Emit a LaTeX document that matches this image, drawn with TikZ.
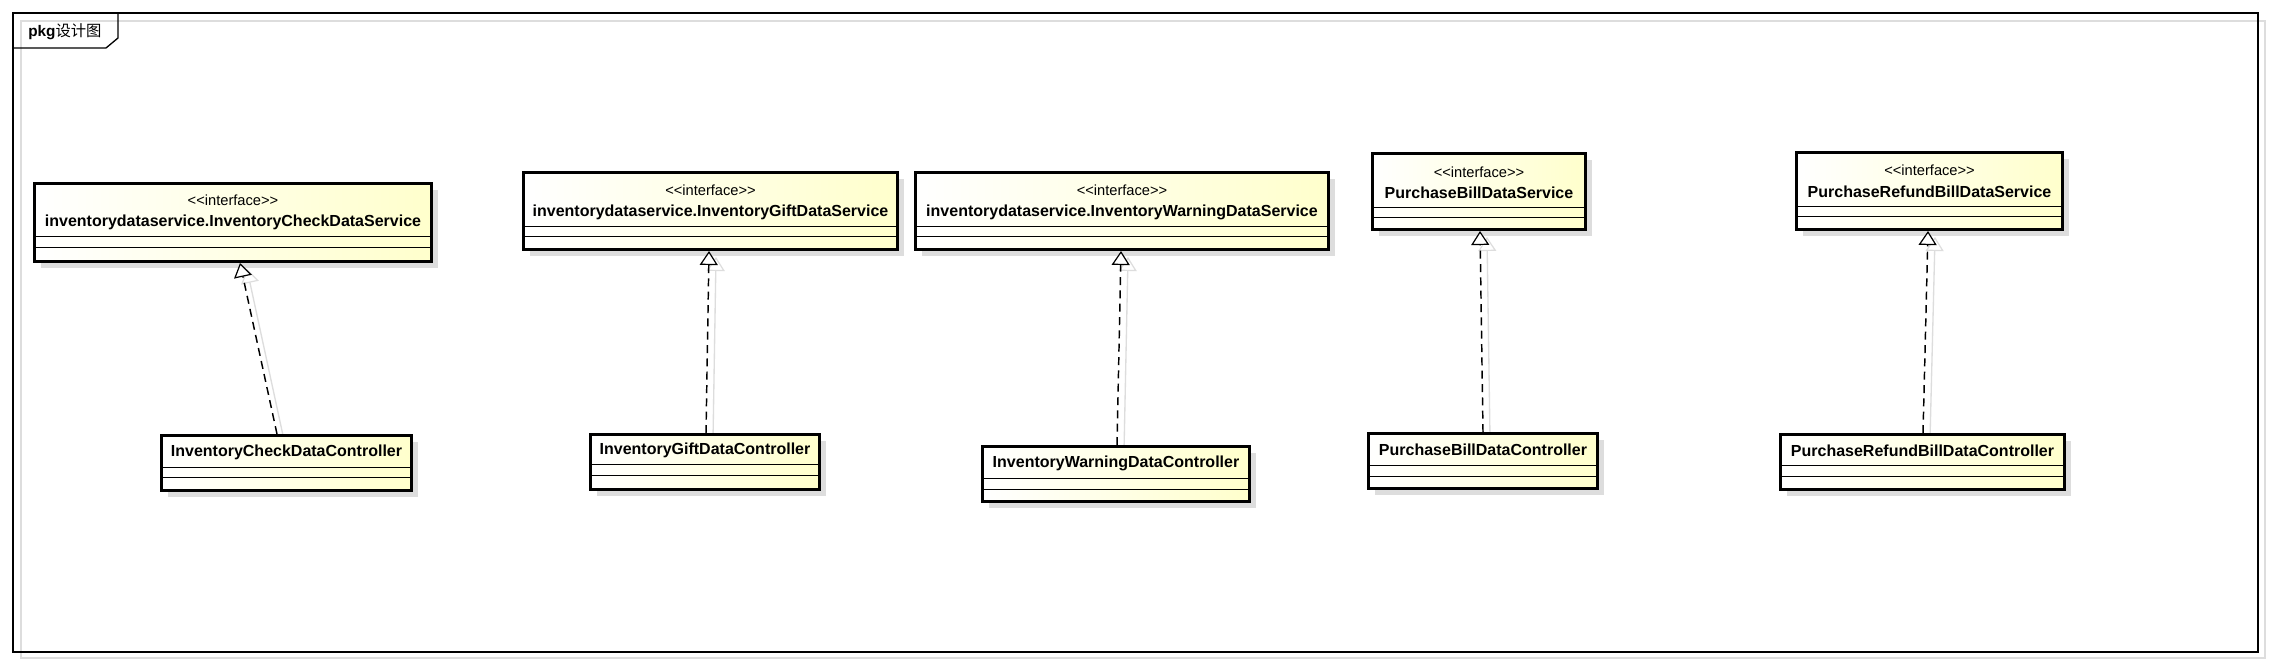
\documentclass[tikz,border=0pt]{standalone}
\usepackage{fontspec}
\setmainfont{Liberation Sans}
\newfontfamily\cjk{Noto Sans CJK SC}
\usetikzlibrary{arrows.meta,calc,fit,shadows,backgrounds}
\definecolor{umlyel}{RGB}{255,255,204}
\definecolor{shadowgray}{RGB}{221,221,221}
\tikzset{
  cls/.style={draw=black, line width=2.25pt, inner sep=0pt, left color=white, right color=umlyel,
    drop shadow={shadow xshift=4.5pt, shadow yshift=-4.5pt, opacity=1, fill=shadowgray}},
  divider/.style={line width=0.75pt},
  stereo/.style={font=\fontsize{11}{13}\selectfont, inner sep=0pt},
  cname/.style={font=\fontsize{12}{14}\selectfont\bfseries, inner sep=0pt},
  realize/.style={line width=1.1pt, dash pattern=on 6pt off 4pt,
    -{Triangle[fill=white, length=10.5pt, width=13.5pt, line width=0.9pt]}},
  arrshadow/.style={draw=shadowgray, line width=1pt,
    -{Triangle[fill=white, length=10.5pt, width=13.5pt, line width=0.9pt]}},
}
\newcommand\stereotxt{<\kern0pt<interface>\kern0pt>}
\begin{document}
\begin{tikzpicture}[x=0.75pt, y=-0.75pt]
\useasboundingbox (0,0) rectangle (2272,665);

% frame
\draw[shadowgray, line width=1.2pt] (21,21) rectangle (2265,658);
\node[draw, line width=1pt, inner sep=0pt, fit={(13,13) (2258,652)}] (frame) {};
\draw[line width=1pt] (118,13) -- (118,38) -- (106,48) -- (13,48);
\node[anchor=west, inner sep=0pt, font=\fontsize{11.5}{13}\selectfont] (tab) at (28,32) {\textbf{pkg}{\cjk 设计图}};

% interfaces
\node[cls, fit={(34.5,183.5) (431.5,261.5)}] (s1) {};
\node[stereo] (s1st) at (s1.north |- 0,200) {\stereotxt};
\node[cname] (s1nm) at (s1.north |- 0,222) {inventorydataservice.InventoryCheckDataService};
\draw[divider] (s1.west |- 0,236) -- (s1.east |- 0,236);
\draw[divider] (s1.west |- 0,247) -- (s1.east |- 0,247);

\node[cls, fit={(523.5,172.5) (897.5,249.5)}] (s2) {};
\node[stereo] (s2st) at (s2.north |- 0,190) {\stereotxt};
\node[cname] (s2nm) at (s2.north |- 0,212) {inventorydataservice.InventoryGiftDataService};
\draw[divider] (s2.west |- 0,226) -- (s2.east |- 0,226);
\draw[divider] (s2.west |- 0,236) -- (s2.east |- 0,236);

\node[cls, fit={(915.5,172.5) (1328.5,249.5)}] (s3) {};
\node[stereo] (s3st) at (s3.north |- 0,190) {\stereotxt};
\node[cname] (s3nm) at (s3.north |- 0,212) {inventorydataservice.InventoryWarningDataService};
\draw[divider] (s3.west |- 0,226) -- (s3.east |- 0,226);
\draw[divider] (s3.west |- 0,236) -- (s3.east |- 0,236);

\node[cls, fit={(1372.5,153.5) (1585.5,229.5)}] (s4) {};
\node[stereo] (s4st) at (s4.north |- 0,172) {\stereotxt};
\node[cname] (s4nm) at (s4.north |- 0,193) {PurchaseBillDataService};
\draw[divider] (s4.west |- 0,207) -- (s4.east |- 0,207);
\draw[divider] (s4.west |- 0,217) -- (s4.east |- 0,217);

\node[cls, fit={(1796.5,152.5) (2062.5,229.5)}] (s5) {};
\node[stereo] (s5st) at (s5.north |- 0,170) {\stereotxt};
\node[cname] (s5nm) at (s5.north |- 0,192) {PurchaseRefundBillDataService};
\draw[divider] (s5.west |- 0,206) -- (s5.east |- 0,206);
\draw[divider] (s5.west |- 0,216) -- (s5.east |- 0,216);

% controllers
\node[cls, fit={(161.5,435.5) (411.5,490.5)}] (c1) {};
\node[cname] (c1nm) at (c1.north |- 0,452) {InventoryCheckDataController};
\draw[divider] (c1.west |- 0,467) -- (c1.east |- 0,467);
\draw[divider] (c1.west |- 0,477) -- (c1.east |- 0,477);

\node[cls, fit={(590.5,434.5) (819.5,489.5)}] (c2) {};
\node[cname] (c2nm) at (c2.north |- 0,450) {InventoryGiftDataController};
\draw[divider] (c2.west |- 0,464) -- (c2.east |- 0,464);
\draw[divider] (c2.west |- 0,475) -- (c2.east |- 0,475);

\node[cls, fit={(982.5,446.5) (1249.5,501.5)}] (c3) {};
\node[cname] (c3nm) at (c3.north |- 0,463) {InventoryWarningDataController};
\draw[divider] (c3.west |- 0,478) -- (c3.east |- 0,478);
\draw[divider] (c3.west |- 0,489) -- (c3.east |- 0,489);

\node[cls, fit={(1368.5,433.5) (1597.5,488.5)}] (c4) {};
\node[cname] (c4nm) at (c4.north |- 0,450) {PurchaseBillDataController};
\draw[divider] (c4.west |- 0,465) -- (c4.east |- 0,465);
\draw[divider] (c4.west |- 0,476) -- (c4.east |- 0,476);

\node[cls, fit={(1780.5,434.5) (2064.5,489.5)}] (c5) {};
\node[cname] (c5nm) at (c5.north |- 0,451) {PurchaseRefundBillDataController};
\draw[divider] (c5.west |- 0,465) -- (c5.east |- 0,465);
\draw[divider] (c5.west |- 0,476) -- (c5.east |- 0,476);

% realizations
\draw[realize] ($(c1.north)+(-9.5,0)$) -- ($(s1.south)+(7,0)$);
\draw[realize] ($(c2.north)+(1,0)$) -- ($(s2.south)+(-1.5,0)$);
\draw[realize] ($(c3.north)+(1,0)$) -- ($(s3.south)+(-1,0)$);
\draw[realize] ($(c4.north)+(0,0)$) -- ($(s4.south)+(1,0)$);
\draw[realize] ($(c5.north)+(0.5,0)$) -- ($(s5.south)+(-1.5,0)$);

\begin{scope}[on background layer]
  \fill[white] (0,0) rectangle (2272,665);
  \draw[arrshadow] ($(c1.north)+(-2.5,6)$) -- ($(s1.south)+(14,6)$);
  \draw[arrshadow] ($(c2.north)+(8,6)$) -- ($(s2.south)+(5.5,6)$);
  \draw[arrshadow] ($(c3.north)+(8,6)$) -- ($(s3.south)+(6,6)$);
  \draw[arrshadow] ($(c4.north)+(7,6)$) -- ($(s4.south)+(8,6)$);
  \draw[arrshadow] ($(c5.north)+(7.5,6)$) -- ($(s5.south)+(5.5,6)$);
\end{scope}
\end{tikzpicture}
\end{document}
